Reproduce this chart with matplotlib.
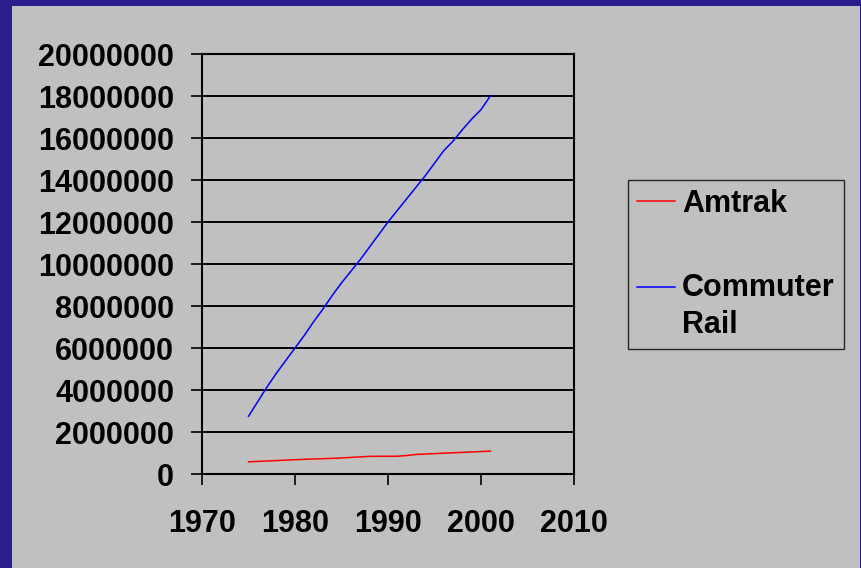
import matplotlib
matplotlib.use('Agg')
from matplotlib import pyplot as plt
from matplotlib.patches import Rectangle

plt.rcParams['font.family'] = ['Liberation Sans', 'DejaVu Sans']

# ridership, 1975-2001
years = list(range(1975, 2002))
amtrak = [580000, 600000, 620000, 640000, 660000, 680000, 700000, 715000,
          730000, 745000, 765000, 790000, 815000, 840000, 845000, 845000,
          845000, 880000, 930000, 950000, 970000, 990000, 1010000, 1030000,
          1050000, 1070000, 1090000]
commuter = [2750000, 3450000, 4150000, 4800000, 5400000, 6000000, 6600000,
            7250000, 7850000, 8500000, 9100000, 9650000, 10200000, 10800000,
            11400000, 12000000, 12550000, 13100000, 13650000, 14200000,
            14800000, 15400000, 15850000, 16400000, 16900000, 17350000,
            18000000]
series_names = ['Amtrak', 'Commuter\nRail']
xticks = [1970, 1980, 1990, 2000, 2010]
yticks = list(range(0, 20000001, 2000000))

fig = plt.figure(figsize=(8.61, 5.68), dpi=100)
fig.patch.set_facecolor('#2b1f8e')
# grey slide panel
panel = Rectangle((12 / 861, 0), 848 / 861, 562 / 568,
                  transform=fig.transFigure, facecolor='#c0c0c0',
                  edgecolor='none', zorder=-10)
fig.add_artist(panel)

ax = fig.add_axes([202 / 861, 94 / 568, 372 / 861, 420 / 568])
ax.set_facecolor('#c0c0c0')
ax.plot(years, amtrak, color='#ff0000', lw=1.1, label=series_names[0])
ax.plot(years, commuter, color='#0000ff', lw=1.1, label=series_names[1])

ax.set_xlim(1970, 2010)
ax.set_ylim(0, 20000000)
ax.set_xticks(xticks)
ax.set_yticks(yticks)
ax.set_yticklabels([str(v) for v in yticks])
ax.yaxis.grid(True, color='black', lw=1.4)
ax.set_axisbelow(True)
for s in ax.spines.values():
    s.set_linewidth(1.5)
    s.set_color('black')
ax.tick_params(axis='both', direction='out', length=8, width=1.2,
               labelsize=22, color='black')
ax.tick_params(axis='y', pad=12)
ax.tick_params(axis='x', pad=17)
for lab in ax.get_xticklabels() + ax.get_yticklabels():
    lab.set_fontweight('bold')

leg = ax.legend(loc='upper left', bbox_to_anchor=(628 / 861, 1 - 180 / 568),
                bbox_transform=fig.transFigure, fontsize=22, frameon=True,
                fancybox=False, edgecolor='black', facecolor='#c0c0c0',
                handlelength=1.25, handletextpad=0.22, labelspacing=1.75,
                borderpad=0.3, borderaxespad=0)
leg.get_frame().set_linewidth(1.0)
for t in leg.get_texts():
    t.set_fontweight('bold')
    t.set_linespacing(1.3)
# put the commuter handle level with the first line of its label
h = leg.legend_handles[1]
h.set_ydata(h.get_ydata() + 14)

fig.savefig('out.png', dpi=100, facecolor=fig.get_facecolor())
